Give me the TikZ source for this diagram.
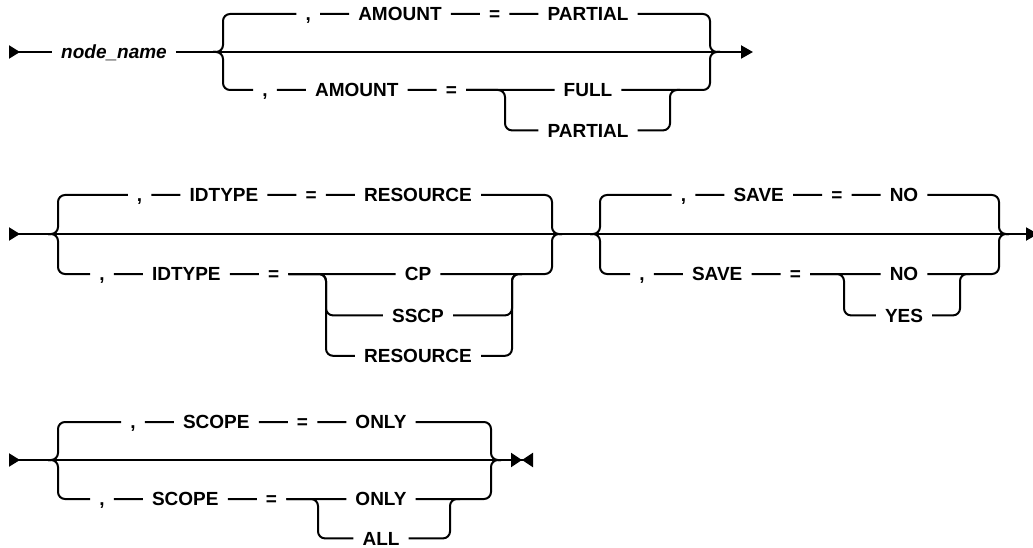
\documentclass[tikz,border=0pt]{standalone}
\usepackage{fontspec}
\setmainfont{Liberation Sans}
\usetikzlibrary{arrows.meta,positioning}
\newcommand{\railfont}{\fontsize{19}{22}\selectfont\bfseries}
\tikzset{
  tok/.style={inner xsep=9pt,inner ysep=0pt,text height=13.5pt,text depth=0pt,font=\railfont},
  rail/.style={line width=2pt,rounded corners=7pt},
  railstart/.style={{Triangle[reversed,length=11pt,width=13pt]}-},
  railend/.style={-{Triangle[length=12pt,width=13pt]}},
  railstop/.style={-{Triangle[length=11pt,width=14pt]Triangle[reversed,length=11pt,width=14pt]}}
}
\begin{document}
\begin{tikzpicture}[x=1pt,y=-1pt,node distance=29pt]
\useasboundingbox (0,0) rectangle (1033,548);
% row 1
\coordinate (s1) at (9,52);
\coordinate (l1) at (213,52);
\coordinate (L1) at (223,52);
\coordinate (R1) at (710,52);
\coordinate (e1) at (753,52);
\coordinate (k1) at (505,90);
\coordinate (k1r) at (670,90);
\node[tok,font=\railfont\itshape] (nn) at (114,52) {node\_name};
\node[tok] (p1) at (588,14) {PARTIAL};
\node[tok,left=of p1] (q1) {=};
\node[tok,left=of q1] (a1) {AMOUNT};
\node[tok,left=of a1] (c1) {,};
\node[tok] (c1b) at (265,90) {,};
\node[tok,right=of c1b] (a1b) {AMOUNT};
\node[tok,right=of a1b] (q1b) {=};
\node[tok] (f1) at (588,90) {FULL};
\node[tok,below=26.5pt of f1] (p1b) {PARTIAL};
\draw[rail,railstart] (s1) -- (nn);
\draw[rail,railend] (nn) -- (e1);
\draw[rail] (l1) -- (L1) |- (c1) -- (a1) -- (q1) -- (p1) -| (R1) -- +(10,0);
\draw[rail] (l1) -- (L1) |- (c1b) -- (a1b) -- (q1b) -- (f1) -| (R1) -- +(10,0);
\draw[rail] (q1b) -- (k1) |- (p1b) -| (k1r) -- +(10,0);
% row 2
\coordinate (s2) at (9,234);
\coordinate (e2) at (1038,234);
\coordinate (l2) at (48,234);
\coordinate (L2) at (58,234);
\coordinate (R2) at (552,234);
\coordinate (k2) at (326,274);
\coordinate (k2r) at (512,274);
\coordinate (l3) at (590,234);
\coordinate (L3) at (600,234);
\coordinate (R3) at (999,234);
\coordinate (k3) at (844,274);
\coordinate (k3r) at (960,274);
\node[tok] (rs2) at (418,195) {RESOURCE};
\node[tok,left=of rs2] (q2) {=};
\node[tok,left=of q2] (i2) {IDTYPE};
\node[tok,left=of i2] (c2) {,};
\node[tok] (c2b) at (102,274) {,};
\node[tok,right=of c2b] (i2b) {IDTYPE};
\node[tok,right=of i2b] (q2b) {=};
\node[tok] (cp2) at (418,274) {CP};
\node[tok,below=27.5pt of cp2] (ss2) {SSCP};
\node[tok,below=26.5pt of ss2] (rs2b) {RESOURCE};
\node[tok] (no3) at (904,195) {NO};
\node[tok,left=of no3] (q3) {=};
\node[tok,left=of q3] (sv3) {SAVE};
\node[tok,left=of sv3] (c3) {,};
\node[tok] (c3b) at (642,274) {,};
\node[tok,right=of c3b] (sv3b) {SAVE};
\node[tok,right=of sv3b] (q3b) {=};
\node[tok] (no3b) at (904,274) {NO};
\node[tok,below=27.5pt of no3b] (ys3) {YES};
\draw[rail,railstart] (s2) -- (l2);
\draw[rail,railend] (l2) -- (e2);
\draw[rail] (l2) -- (L2) |- (c2) -- (i2) -- (q2) -- (rs2) -| (R2) -- +(10,0);
\draw[rail] (l2) -- (L2) |- (c2b) -- (i2b) -- (q2b) -- (cp2) -| (R2) -- +(10,0);
\draw[rail] (q2b) -- (k2) |- (ss2) -| (k2r) -- +(10,0);
\draw[rail] (q2b) -- (k2) |- (rs2b) -| (k2r) -- +(10,0);
\draw[rail] (l3) -- (L3) |- (c3) -- (sv3) -- (q3) -- (no3) -| (R3) -- +(10,0);
\draw[rail] (l3) -- (L3) |- (c3b) -- (sv3b) -- (q3b) -- (no3b) -| (R3) -- +(10,0);
\draw[rail] (q3b) -- (k3) |- (ys3) -| (k3r) -- +(10,0);
% row 3
\coordinate (s4) at (9,460);
\coordinate (e4) at (533,460);
\coordinate (l4) at (48,460);
\coordinate (L4) at (58,460);
\coordinate (R4) at (491,460);
\coordinate (k4) at (318,499);
\coordinate (k4r) at (450,499);
\node[tok] (on4) at (381,422) {ONLY};
\node[tok,left=of on4] (q4) {=};
\node[tok,left=of q4] (sc4) {SCOPE};
\node[tok,left=of sc4] (c4) {,};
\node[tok] (c4b) at (102,499) {,};
\node[tok,right=of c4b] (sc4b) {SCOPE};
\node[tok,right=of sc4b] (q4b) {=};
\node[tok] (on4b) at (381,499) {ONLY};
\node[tok,below=25.5pt of on4b] (al4) {ALL};
\draw[rail,railstart] (s4) -- (l4);
\draw[rail,railstop] (l4) -- (e4);
\draw[rail] (l4) -- (L4) |- (c4) -- (sc4) -- (q4) -- (on4) -| (R4) -- +(10,0);
\draw[rail] (l4) -- (L4) |- (c4b) -- (sc4b) -- (q4b) -- (on4b) -| (R4) -- +(10,0);
\draw[rail] (q4b) -- (k4) |- (al4) -| (k4r) -- +(10,0);
\end{tikzpicture}
\end{document}
